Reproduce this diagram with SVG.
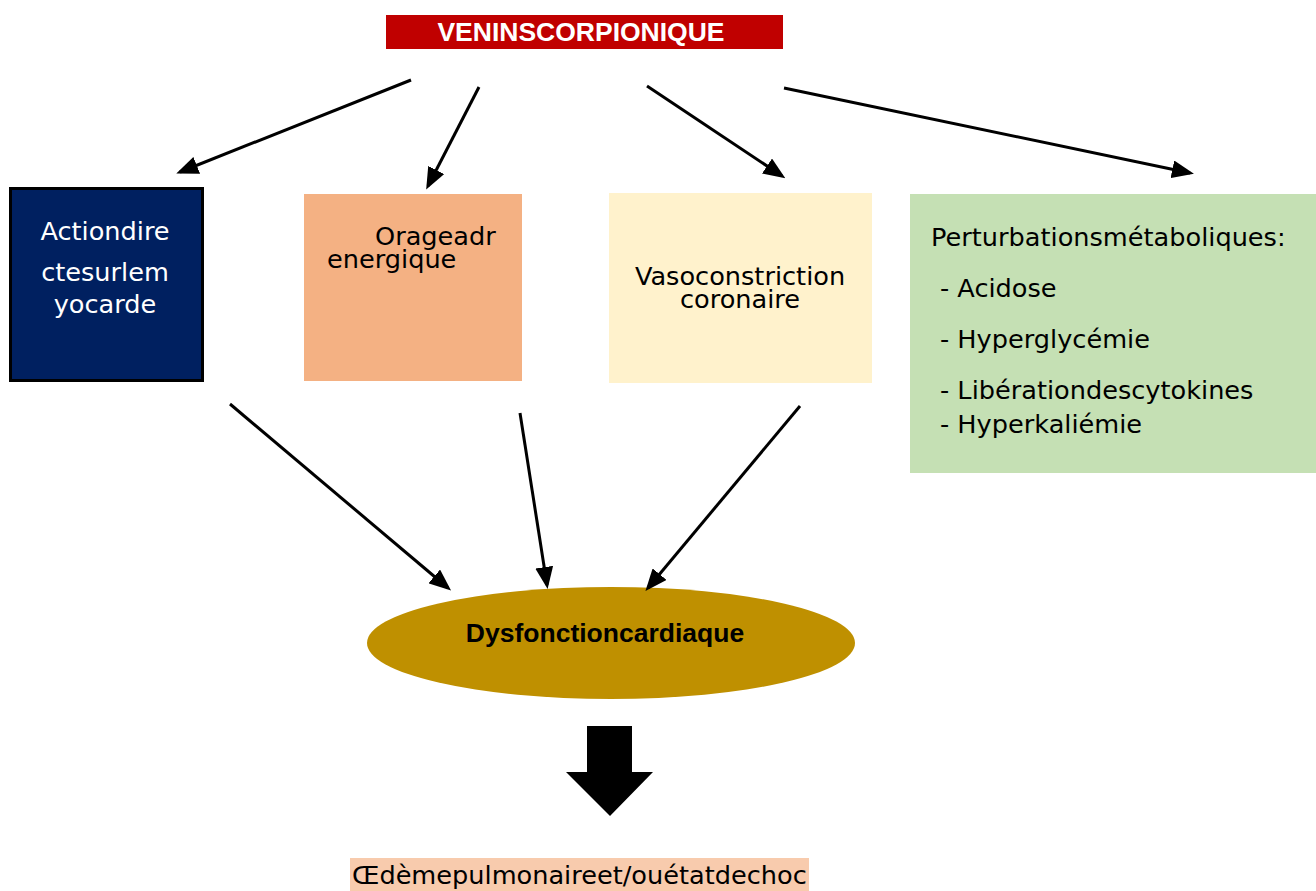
<svg xmlns="http://www.w3.org/2000/svg" width="1316" height="891" viewBox="0 0 1316 891">
<defs>
<marker id="ah" markerUnits="userSpaceOnUse" markerWidth="22" markerHeight="18" viewBox="0 0 22 18" refX="18" refY="9" orient="auto">
<path d="M0,0 L22,9 L0,18 z" fill="#000"/>
</marker>
<style>
.t{font-family:"DejaVu Sans","Liberation Sans",sans-serif;font-size:25.6px;fill:#000}
.w{fill:#fff}
.b{font-family:"Liberation Sans",Arial,sans-serif;font-weight:bold;font-size:26.5px}
.c{stroke:#000;stroke-width:3;fill:none;marker-end:url(#ah)}
</style>
</defs>
<rect width="1316" height="891" fill="#fff"/>
<g id="header">
<rect x="386" y="15" width="397" height="34" fill="#C00000"/>
<text x="581" y="41" text-anchor="middle" class="b" fill="#fff">VENINSCORPIONIQUE</text>
</g>
<g id="node-action">
<rect x="10.5" y="188.5" width="192" height="192" fill="#002060" stroke="#000" stroke-width="3"/>
<text class="t w" x="105" y="240" text-anchor="middle">Actiondire</text>
<text class="t w" x="105" y="281" text-anchor="middle">ctesurlem</text>
<text class="t w" x="105" y="313" text-anchor="middle">yocarde</text>
</g>
<g id="node-orage">
<rect x="304" y="194" width="218" height="187" fill="#F4B183"/>
<text class="t" x="375" y="245">Orageadr</text>
<text class="t" x="327" y="268">energique</text>
</g>
<g id="node-vaso">
<rect x="609" y="193" width="263" height="190" fill="#FFF2CC"/>
<text class="t" x="740" y="285" text-anchor="middle">Vasoconstriction</text>
<text class="t" x="740" y="308" text-anchor="middle">coronaire</text>
</g>
<g id="node-perturb">
<rect x="910" y="194" width="406" height="279" fill="#C5E0B4"/>
<text class="t" x="931" y="246">Perturbationsmétaboliques:</text>
<text class="t" x="940" y="297">- Acidose</text>
<text class="t" x="940" y="348">- Hyperglycémie</text>
<text class="t" x="940" y="399">- Libérationdescytokines</text>
<text class="t" x="940" y="433">- Hyperkaliémie</text>
</g>
<g id="node-dysf">
<ellipse cx="611" cy="643" rx="244" ry="56" fill="#BF9000"/>
<text x="605" y="642" text-anchor="middle" class="b" fill="#000">Dysfonctioncardiaque</text>
</g>
<g id="block-arrow">
<path d="M587,726 H632 V772 H653 L610,816 L566,772 H587 Z" fill="#000"/>
</g>
<g id="node-oedeme">
<rect x="350" y="858" width="459" height="33" fill="#F8CBAD"/>
<text class="t" x="352" y="884">Œdèmepulmonaireet/ouétatdechoc</text>
</g>
<g id="connectors">
<line class="c" x1="411" y1="80" x2="180" y2="172"/>
<line class="c" x1="479" y1="87" x2="428" y2="186"/>
<line class="c" x1="647" y1="86" x2="782" y2="176"/>
<line class="c" x1="784" y1="88" x2="1190" y2="173"/>
<line class="c" x1="230" y1="404" x2="448" y2="588"/>
<line class="c" x1="520" y1="413" x2="547" y2="585"/>
<line class="c" x1="800" y1="406" x2="648" y2="588"/>
</g>
</svg>
